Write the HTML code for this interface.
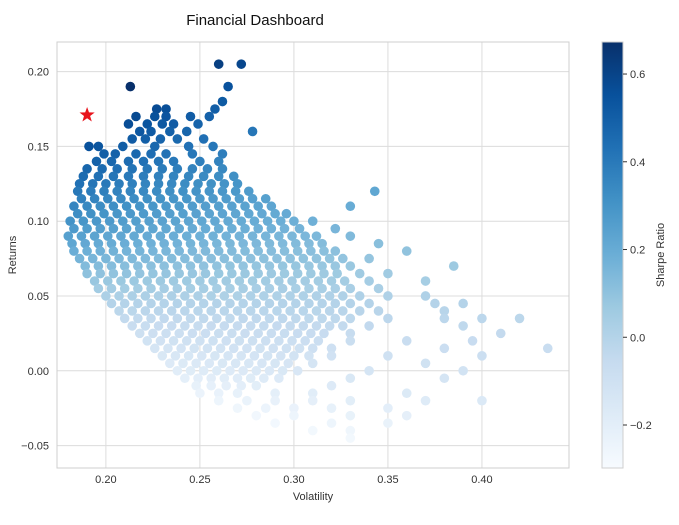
<!DOCTYPE html>
<html><head><meta charset="utf-8"><style>
body{margin:0;background:#fff;font-family:"Liberation Sans",sans-serif;}
svg text{font-family:"Liberation Sans",sans-serif;}
</style></head><body>
<svg id="chart" width="679" height="520" xmlns="http://www.w3.org/2000/svg"></svg>
<script>
const xTicks=[0.20,0.25,0.30,0.35,0.40];
const yTicks=[-0.05,0.00,0.05,0.10,0.15,0.20];
const cbTicks=[-0.2,0.0,0.2,0.4,0.6];
const riskFree=0.045;
const optimal=[0.190,0.171];
// returns (thousandths) per row, and volatilities (thousandths) of portfolios in that row
const rowRet=[205,190,180,175,170,165,160,155,150,145,140,135,130,125,120,115,110,105,100,95,90,85,80,75,70,65,60,55,50,45,40,35,30,25,20,15,10,5,0,-5,-10,-15,-20,-25,-30,-35,-40,-45];
const rowVols=[
[260,272],[213,265],[262],[227,232,258],[216,226,232,245,255],[212,222,230,236,249],
[218,224,234,243,278],[214,221,229,238,252],[191,196,209,226,244,257],[199,205,216,224,232,246,262],
[195,203,212,220,228,236,250,260],[190,198,206,214,222,230,238,246,254,262],
[188,196,204,212,220,228,236,244,252,260,268],
[186,193,200,207,214,221,228,235,242,249,256,263,270],
[185,192,199,206,213,220,227,234,241,248,255,262,269,276,343],
[187,194,201,208,215,222,229,236,243,250,257,264,271,278,285],
[183,190,197,204,211,218,225,232,239,246,253,260,267,274,281,288,330],
[185,192,199,206,213,220,227,234,241,248,255,262,269,276,283,290,296],
[181,188,195,202,209,216,223,230,237,244,251,258,265,272,279,286,293,300,310],
[183,190,197,204,211,218,225,232,239,246,253,260,267,274,281,288,295,303,322],
[180,187,194,201,208,215,222,229,236,243,250,257,264,271,278,285,292,299,306,312,330],
[182,189,196,203,210,217,224,231,238,245,252,259,266,273,280,287,294,301,308,315,345],
[183,190,197,204,211,218,225,232,239,246,253,260,267,274,281,288,295,302,309,316,322,360],
[186,193,200,207,214,221,228,235,242,249,256,263,270,277,284,291,298,305,312,319,326,340],
[189,196,203,210,217,224,231,238,245,252,259,266,273,280,287,294,301,308,315,322,330,385],
[190,197,204,211,218,225,232,239,246,253,260,267,274,281,288,295,302,309,316,323,335,350],
[194,201,208,215,222,229,236,243,250,257,264,271,278,285,292,299,306,313,320,327,340,370],
[196,203,210,217,224,231,238,245,252,259,266,273,280,287,294,301,308,315,322,330,345],
[200,207,214,221,228,235,242,249,256,263,270,277,284,291,298,305,312,319,326,335,350,370],
[203,210,217,224,231,238,245,252,259,266,273,280,287,294,301,308,315,322,330,340,375,390],
[207,214,221,228,235,242,249,256,263,270,277,284,291,298,305,312,319,326,335,345,380],
[210,217,224,231,238,245,252,259,266,273,280,287,294,301,308,315,322,330,350,380,400,420],
[214,221,228,235,242,249,256,263,270,277,284,291,298,305,312,319,326,340,390],
[218,225,232,239,246,253,260,267,274,281,288,295,302,309,316,330,410],
[222,229,236,243,250,257,264,271,278,285,292,299,306,313,330,360,395],
[226,233,240,247,254,261,268,275,282,289,296,303,310,320,380,435],
[230,237,244,251,258,265,272,279,286,293,300,308,320,350,400],
[234,241,248,255,262,269,276,283,290,297,310,370],
[238,245,252,259,266,273,280,287,294,302,340,390],
[242,249,256,263,270,277,284,292,330,380],
[248,256,264,272,280,320],[250,260,270,290,310,360],[260,275,290,310,330,370,400],
[270,285,300,320,350],[280,300,330,360],[290,320,350],[310,330],[330]
];
const NS="http://www.w3.org/2000/svg";
const svg=document.getElementById('chart');
const L=57,R=569,T=42,B=468;
const xMin=0.174,xMax=0.4463,yMin=-0.065,yMax=0.2198;
const cMin=-0.298,cMax=0.673;
function sx(v){return L+(v-xMin)/(xMax-xMin)*(R-L);}
function sy(v){return B-(v-yMin)/(yMax-yMin)*(B-T);}
const CB={x:602,w:21};
function cy(v){return B-(v-cMin)/(cMax-cMin)*(B-T);}
const stops=["#f7fbff","#deebf7","#c6dbef","#9ecae1","#6baed6","#4292c6","#2171b5","#08519c","#08306b"];
function hex(h){return [1,3,5].map(i=>parseInt(h.substr(i,2),16));}
function blues(t){t=Math.max(0,Math.min(1,t));const p=t*8,i=Math.min(7,Math.floor(p)),f=p-i;const a=hex(stops[i]),b=hex(stops[i+1]);return 'rgb('+a.map((c,k)=>Math.round(c+(b[k]-c)*f)).join(',')+')';}
function el(tag,attrs,parent){const e=document.createElementNS(NS,tag);for(const k in attrs)e.setAttribute(k,attrs[k]);(parent||svg).appendChild(e);return e;}
function txt(s,attrs){const e=el('text',attrs);e.textContent=s;return e;}

el('rect',{x:L,y:T,width:R-L,height:B-T,fill:'#fff'});
xTicks.forEach(v=>{const g=el('line',{x1:sx(v),x2:sx(v),y1:T,y2:B,stroke:'#dcdcdc','stroke-width':1});


const t=txt(v.toFixed(2),{x:sx(v),y:B+15,'text-anchor':'middle','font-size':11,fill:'#333'});

});
yTicks.forEach(v=>{const g=el('line',{x1:L,x2:R,y1:sy(v),y2:sy(v),stroke:'#dcdcdc','stroke-width':1});


const t=txt(v.toFixed(2).replace('-','−'),{x:L-8,y:sy(v)+4,'text-anchor':'end','font-size':11,fill:'#333'});

});

const pts=el('g',{});


rowRet.forEach((r,i)=>{rowVols[i].forEach(vv=>{const v=vv/1000,ret=r/1000;const s=(ret-riskFree)/v;
const c=el('circle',{cx:sx(v),cy:sy(ret),r:4.8,fill:blues((s-cMin)/(cMax-cMin))},pts);

});});

(function(){const cx=sx(optimal[0]),cy0=sy(optimal[1]);let d='';for(let k=0;k<10;k++){const a=-Math.PI/2+k*Math.PI/5,rr=k%2?3.2:8;d+=(k?'L':'M')+(cx+rr*Math.cos(a)).toFixed(1)+' '+(cy0+rr*Math.sin(a)).toFixed(1);}
const s=el('path',{d:d+'Z',fill:'#e8141c'});

})();

const frame=el('rect',{x:L,y:T,width:R-L,height:B-T,fill:'none',stroke:'#cfcfcf','stroke-width':1});



const title=txt('Financial Dashboard',{x:255,y:25,'text-anchor':'middle','font-size':15,fill:'#111'});


const xl=txt('Volatility',{x:313,y:500,'text-anchor':'middle','font-size':11,fill:'#333'});


const yl=txt('Returns',{x:16,y:255,'text-anchor':'middle','font-size':11,fill:'#333',transform:'rotate(-90 16 255)'});



const defs=el('defs',{});
const grad=el('linearGradient',{id:'cb',x1:0,y1:1,x2:0,y2:0},defs);
stops.forEach((c,i)=>el('stop',{offset:(i/8),'stop-color':c},grad));
const cb=el('rect',{x:CB.x,y:T,width:CB.w,height:B-T,fill:'url(#cb)',stroke:'#cfcfcf'});


cbTicks.forEach(v=>{el('line',{x1:CB.x+CB.w,x2:CB.x+CB.w+4,y1:cy(v),y2:cy(v),stroke:'#333'});
const t=txt(v.toFixed(1).replace('-','−'),{x:CB.x+CB.w+7,y:cy(v)+4,'font-size':11,fill:'#333'});

});
const cl=txt('Sharpe Ratio',{x:664,y:255,'text-anchor':'middle','font-size':11,fill:'#333',transform:'rotate(-90 664 255)'});


</script>
</body></html>
